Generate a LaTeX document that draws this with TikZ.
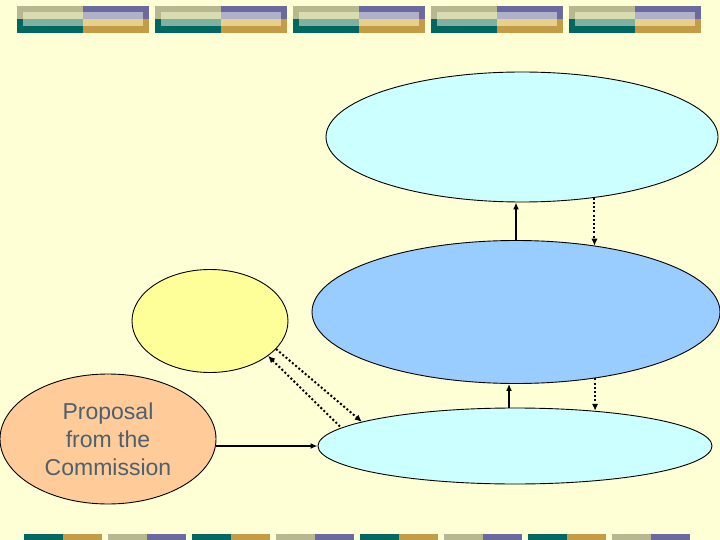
\documentclass[tikz,border=0pt]{standalone}
\usepackage{fontspec}
\setmainfont{Liberation Sans}
\usetikzlibrary{shapes.geometric,arrows.meta}
\definecolor{bg}{RGB}{255,255,213}
\definecolor{khaki}{RGB}{184,184,144}
\definecolor{purp}{RGB}{106,106,160}
\definecolor{tealc}{RGB}{0,104,96}
\definecolor{goldc}{RGB}{196,156,72}
\definecolor{lkhaki}{RGB}{216,220,176}
\definecolor{lpurp}{RGB}{176,176,200}
\definecolor{lteal}{RGB}{128,176,160}
\definecolor{lgold}{RGB}{230,208,140}
\definecolor{cyanl}{RGB}{204,255,255}
\definecolor{bluel}{RGB}{153,204,255}
\definecolor{yell}{RGB}{255,255,153}
\definecolor{peach}{RGB}{255,204,153}
\definecolor{txt}{RGB}{77,96,112}
\begin{document}
\begin{tikzpicture}[x=1pt,y=-1pt,
  ell/.style={ellipse,draw=black,line width=0.9pt,inner sep=0pt},
  solidarrow/.style={line width=1.6pt,-{Latex[length=7pt,width=6pt]}},
  dotarrow/.style={line width=2pt,dash pattern=on 2pt off 2.2pt,-{Latex[length=7pt,width=6.5pt]}},
  dotarrowback/.style={line width=2pt,dash pattern=on 2pt off 2.2pt,{Latex[length=7pt,width=6.5pt]}-}]
\fill[bg] (0,0) rectangle (720,540);
\useasboundingbox (0,0) rectangle (720,540);
% top banner
\foreach \i in {0,...,4}{
  \pgfmathsetmacro{\xo}{17+138*\i}
  \fill[khaki] (\xo,6) rectangle ++(66,13.5);
  \fill[purp] (\xo+66,6) rectangle ++(66,13.5);
  \fill[tealc] (\xo,19.5) rectangle ++(66,13.5);
  \fill[goldc] (\xo+66,19.5) rectangle ++(66,13.5);
  \fill[lkhaki] (\xo+6,12) rectangle ++(60,7.5);
  \fill[lpurp] (\xo+66,12) rectangle ++(60,7.5);
  \fill[lteal] (\xo+6,19.5) rectangle ++(60,6.5);
  \fill[lgold] (\xo+66,19.5) rectangle ++(60,6.5);
}
% bottom bars
\foreach \k in {0,2,4,6}{
  \pgfmathsetmacro{\xo}{24+84*\k}
  \fill[tealc] (\xo,534) rectangle ++(39,6);
  \fill[goldc] (\xo+39,534) rectangle ++(39,6);
  \fill[khaki] (\xo+84,534) rectangle ++(39,6);
  \fill[purp] (\xo+123,534) rectangle ++(39,6);
}
% ellipses
\node[ell,fill=cyanl,minimum width=392pt,minimum height=130pt] (top) at (522,137) {};
\node[ell,fill=bluel,minimum width=408pt,minimum height=143pt] (mid) at (516,312) {};
\node[ell,fill=cyanl,minimum width=394pt,minimum height=76pt] (bot) at (515,446) {};
\node[ell,fill=yell,minimum width=156pt,minimum height=103pt] (yel) at (210,321) {};
\node[ell,fill=peach,minimum width=216pt,minimum height=130pt,
  font=\fontsize{23}{28}\selectfont,text=txt,align=center] (prop) at (108,439) {Proposal\\from the\\Commission};
% connectors
\draw[solidarrow] (mid.north) -- (mid.north |- top.south);
\draw[dotarrow] (top.-40) -- (top.-40 |- mid.40);
\draw[solidarrow] ([xshift=-6pt]bot.north) -- ([xshift=-6pt]bot.north |- mid.south);
\draw[dotarrow] (mid.-40) -- (mid.-40 |- bot.24);
\draw[solidarrow] (prop.east |- bot.west) -- (bot.west);
\draw[dotarrowback] (yel.-31) -- (bot.174);
\draw[dotarrow] (yel.-23) -- (bot.171);
\end{tikzpicture}
\end{document}
